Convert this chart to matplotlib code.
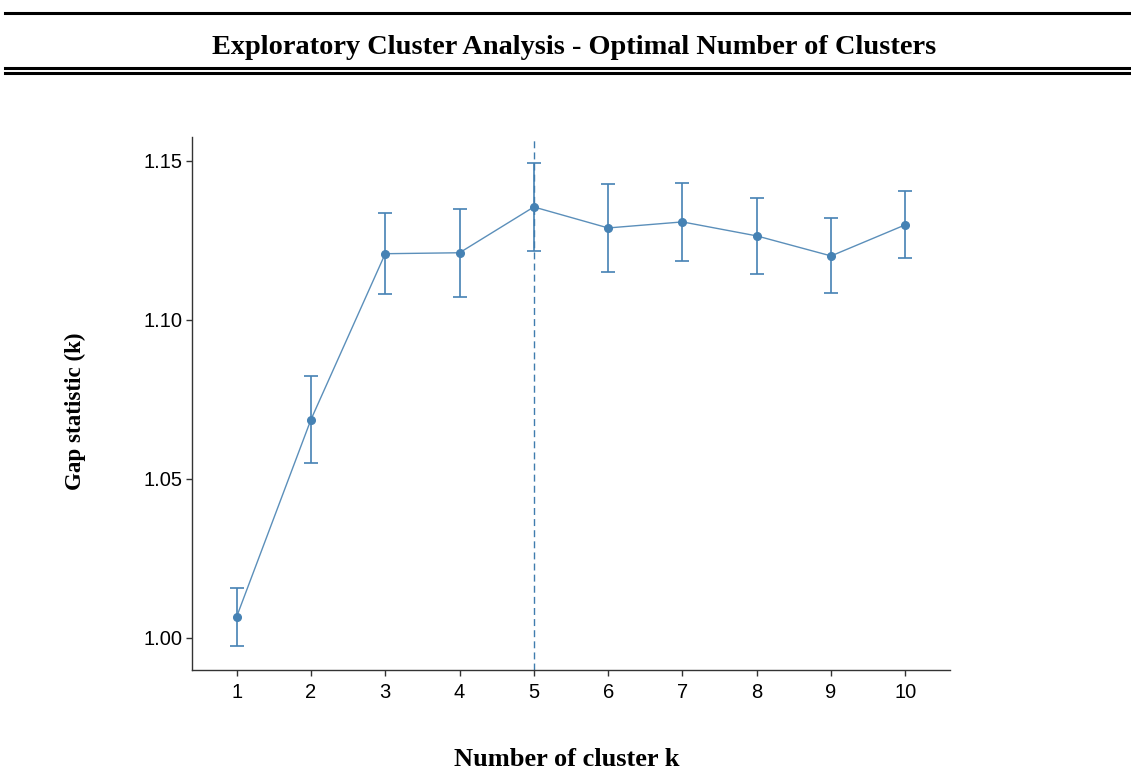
import matplotlib.pyplot as plt
from matplotlib.lines import Line2D

# 数据
k_values = [1, 2, 3, 4, 5, 6, 7, 8, 9, 10]
gap_values = [1.0066, 1.0686, 1.1208, 1.1211, 1.1355, 1.1289, 1.1308, 1.1264, 1.1201, 1.1299]
gap_se = [0.0090, 0.0136, 0.0127, 0.0138, 0.0139, 0.0137, 0.0123, 0.0120, 0.0118, 0.0106]
optimal_k = 5
y_ticks = [1.00, 1.05, 1.10, 1.15]

COLOR = '#4682B4'
SERIF = ['Liberation Serif', 'DejaVu Serif']
SANS = ['Liberation Sans', 'DejaVu Sans']

fig = plt.figure(figsize=(11.31, 7.69), dpi=100)

# 标题及上下装饰线
fig.add_artist(Line2D([0.004, 1.0], [1 - 13 / 769] * 2, color='black', lw=2.2))
fig.add_artist(Line2D([0.004, 1.0], [1 - 67.5 / 769] * 2, color='black', lw=2.2))
fig.add_artist(Line2D([0.004, 1.0], [1 - 72.5 / 769] * 2, color='black', lw=2.2))
fig.text(574 / 1131, 1 - 47 / 769, 'Exploratory Cluster Analysis - Optimal Number of Clusters',
         ha='center', va='center', fontsize=20.4, fontweight='bold', family=SERIF)

ax = fig.add_axes([192 / 1131, 1 - 670 / 769, (950 - 192) / 1131, (670 - 137) / 769])

ax.errorbar(k_values, gap_values, yerr=gap_se, color='#5b8fba', lw=1.0,
            marker='o', markersize=5.5, markerfacecolor=COLOR, markeredgecolor=COLOR,
            capsize=5, elinewidth=1.2, capthick=1.2, ecolor=COLOR)
ax.axvline(optimal_k, color='#3f7cae', lw=1.0, ls=(0, (5, 3)))

ax.set_xlim(0.4, 10.6)
ax.set_ylim(0.9899, 1.1575)
ax.set_xticks(k_values)
ax.set_yticks(y_ticks)
ax.set_yticklabels(['%.2f' % v for v in y_ticks])

for side in ['top', 'right']:
    ax.spines[side].set_visible(False)
for side in ['left', 'bottom']:
    ax.spines[side].set_color('#333333')
    ax.spines[side].set_linewidth(1.0)
ax.tick_params(axis='both', length=4, width=1.0, color='#333333', labelsize=14.5, pad=3)
ax.tick_params(axis='x', pad=5)
for lbl in ax.get_xticklabels() + ax.get_yticklabels():
    lbl.set_family(SANS)

fig.text(75 / 1131, 1 - 411 / 769, 'Gap statistic (k)', rotation=90, ha='center', va='center',
         fontsize=16.6, fontweight='bold', family=SERIF)
fig.text(566.5 / 1131, 1 - 759 / 769, 'Number of cluster k', ha='center', va='center',
         fontsize=19, fontweight='bold', family=SERIF)

fig.savefig('out.png', dpi=100)
